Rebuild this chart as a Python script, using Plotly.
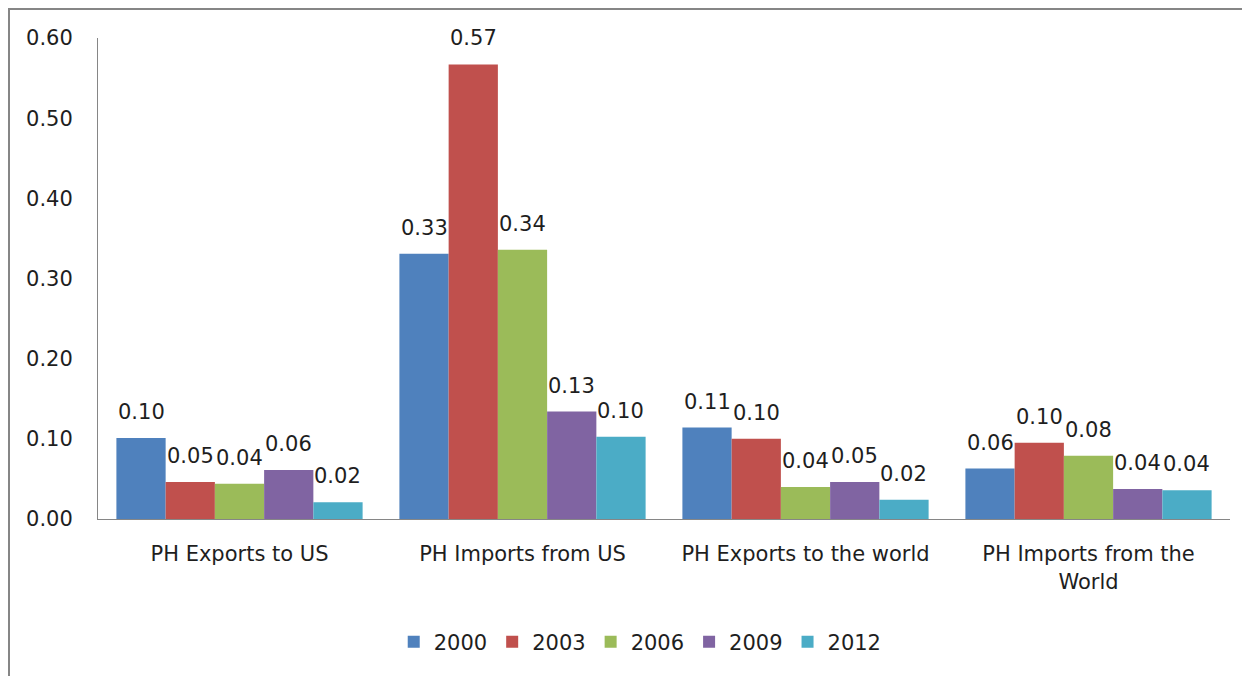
import plotly.graph_objects as go

categories = ["PH Exports to US", "PH Imports from US", "PH Exports to the world", "PH Imports from the<br>World"]
years = ["2000", "2003", "2006", "2009", "2012"]
values = {
    "2000": [0.101, 0.331, 0.114, 0.063],
    "2003": [0.046, 0.567, 0.100, 0.095],
    "2006": [0.044, 0.336, 0.040, 0.079],
    "2009": [0.061, 0.134, 0.046, 0.0375],
    "2012": [0.021, 0.1025, 0.024, 0.036],
}
colors = ["#4F81BD", "#C0504D", "#9BBB59", "#8064A2", "#4BACC6"]

FONT = "DejaVu Sans"
TXT = "#1e1e1e"
BARGAP = 0.13

fig = go.Figure()
for i, y in enumerate(years):
    fig.add_trace(go.Bar(
        x=categories, y=values[y], name=y,
        marker=dict(color=colors[i], line=dict(width=0)),
    ))

n = len(years)
bw = (1 - BARGAP) / n
annotations = []
for si, y in enumerate(years):
    for ci, v in enumerate(values[y]):
        annotations.append(dict(
            x=ci + (si - (n - 1) / 2) * bw, y=v, xref="x", yref="y",
            text=f"{v:.2f}", showarrow=False, yanchor="bottom",
            yshift=12, font=dict(family=FONT, size=21, color=TXT),
        ))

W, H = 1242, 668
L, T, PW, PH = 90, 30, 1132, 481
fig.update_layout(
    width=W, height=H, autosize=False,
    margin=dict(l=L, r=W - L - PW, t=T, b=H - T - PH),
    paper_bgcolor="white", plot_bgcolor="white",
    barmode="group", bargap=BARGAP, bargroupgap=0,
    font=dict(family=FONT, size=21, color=TXT),
    showlegend=True,
    legend=dict(orientation="h", x=0.479, xanchor="center", y=-0.256, yanchor="middle",
                font=dict(family=FONT, size=21, color=TXT), itemwidth=30,
                traceorder="normal"),
    annotations=annotations,
    shapes=[dict(type="rect", xref="paper", yref="paper",
                 x0=(1 - L) / PW, x1=1.3, y0=-0.5, y1=(T + PH - 1) / PH,
                 line=dict(color="#868686", width=2), fillcolor="rgba(0,0,0,0)", layer="below")],
)
fig.update_yaxes(range=[0, 0.6], dtick=0.1, tickformat=".2f", showgrid=False,
                 showline=True, linecolor="#868686", linewidth=1, ticks="",
                 zeroline=False, ticklabelstandoff=20,
                 tickfont=dict(family=FONT, size=21, color=TXT))
fig.update_xaxes(showline=True, linecolor="#868686", linewidth=1, ticks="",
                 showgrid=False, ticklabelstandoff=16,
                 tickfont=dict(family=FONT, size=21, color=TXT))

fig.write_html("out.html")
